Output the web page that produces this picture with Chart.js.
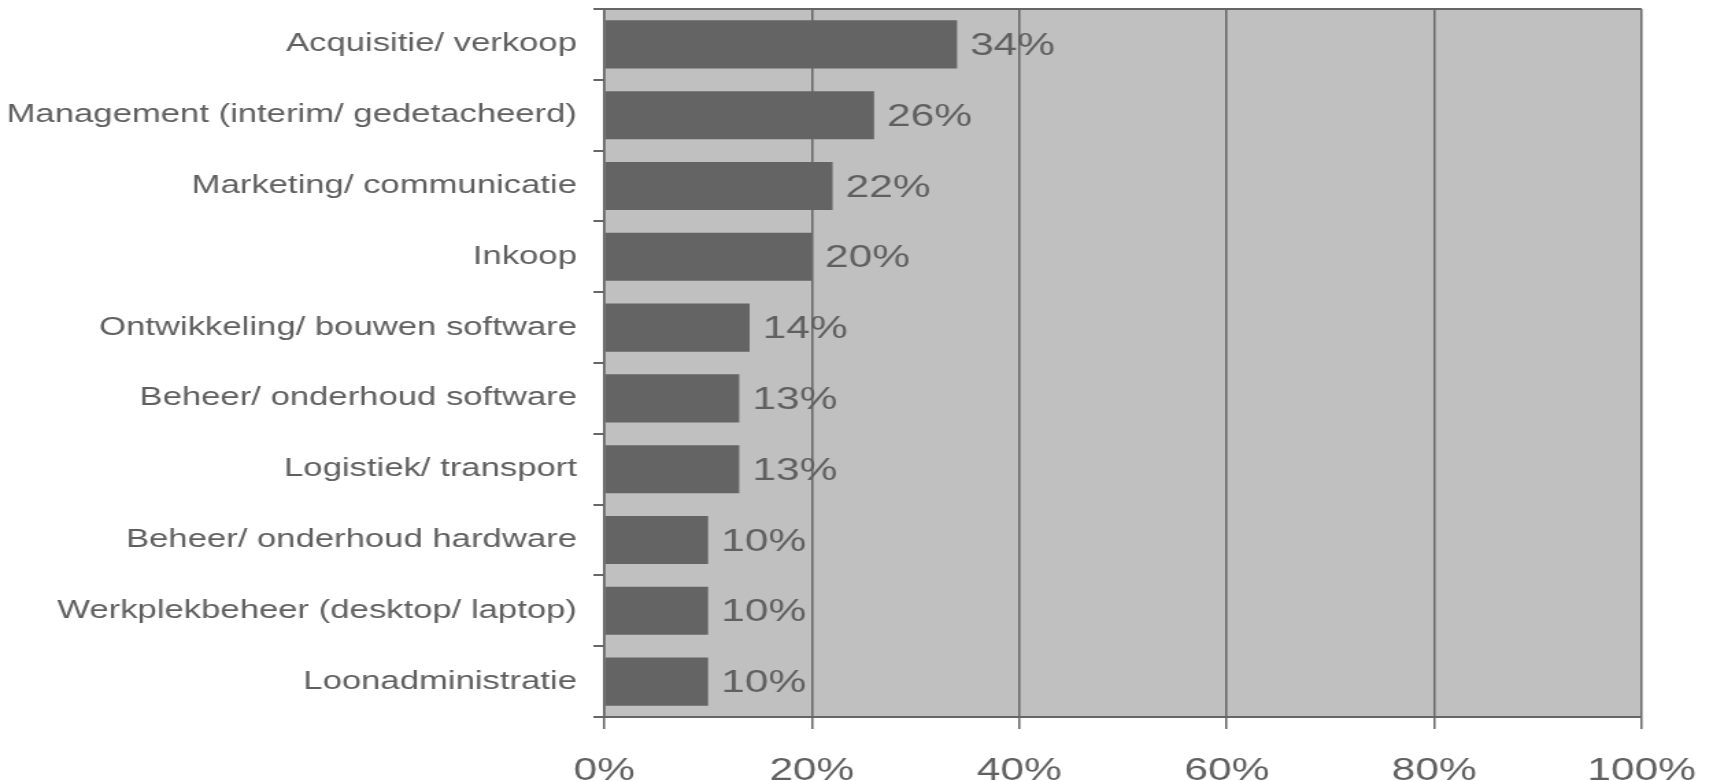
<!DOCTYPE html>
<html lang="nl">
<head>
  <meta charset="UTF-8">
  <title>Werkzaamheden</title>
  <script src="https://cdn.jsdelivr.net/npm/chart.js@4.4.1/dist/chart.umd.min.js"></script>
</head>
<style>
* {
  margin: 0;
  padding: 0;
  box-sizing: border-box;
}

html, body {
  width: 1713px;
  height: 781px;
  overflow: hidden;
  background: #fff;
}

/* the original picture is stretched sideways, so the chart is too */
.stretch {
  position: absolute;
  left: 0;
  top: 0;
  width: 1250px;
  height: 781px;
  transform-origin: 0 0;
  transform: scaleX(1.3704);
}
</style>
<body>
<div class="stretch">
  <canvas id="chart"></canvas>
</div>
<script>
const categories = [
  "Acquisitie/ verkoop",
  "Management (interim/ gedetacheerd)",
  "Marketing/ communicatie",
  "Inkoop",
  "Ontwikkeling/ bouwen software",
  "Beheer/ onderhoud software",
  "Logistiek/ transport",
  "Beheer/ onderhoud hardware",
  "Werkplekbeheer (desktop/ laptop)",
  "Loonadministratie"
];
const values = [34, 26, 22, 20, 14, 13, 13, 10, 10, 10];
const xTicks = [0, 20, 40, 60, 80, 100];

const FONT = "'Liberation Sans', Arial, sans-serif";
const textColor = "#606060";
const lineColor = "#666666";

// grey plot background, top border and the value labels next to each bar
const plotDecor = {
  id: "plotDecor",
  beforeDraw(chart) {
    const { ctx, chartArea } = chart;
    ctx.save();
    ctx.fillStyle = "#c0c0c0";
    ctx.fillRect(chartArea.left, chartArea.top, chartArea.right - chartArea.left, chartArea.bottom - chartArea.top);
    ctx.strokeStyle = lineColor;
    ctx.lineWidth = 2;
    ctx.beginPath();
    ctx.moveTo(chartArea.left, chartArea.top);
    ctx.lineTo(chartArea.right, chartArea.top);
    ctx.stroke();
    ctx.restore();
  },
  afterDraw(chart) {
    const { ctx } = chart;
    ctx.save();
    ctx.font = "31px " + FONT;
    ctx.fillStyle = textColor;
    ctx.textAlign = "left";
    ctx.textBaseline = "middle";
    chart.getDatasetMeta(0).data.forEach((bar, i) => {
      ctx.fillText(values[i] + "%", bar.x + 9.5, bar.y + 2);
    });
    ctx.restore();
  }
};

new Chart(document.getElementById("chart"), {
  type: "bar",
  plugins: [plotDecor],
  data: {
    labels: categories,
    datasets: [{
      data: values,
      backgroundColor: "#646464",
      borderWidth: 0,
      categoryPercentage: 1,
      barPercentage: 0.68
    }]
  },
  options: {
    indexAxis: "y",
    responsive: true,
    maintainAspectRatio: false,
    animation: false,
    layout: { padding: { top: 9, right: 52, left: 0, bottom: 0 } },
    plugins: {
      legend: { display: false },
      tooltip: { enabled: false }
    },
    scales: {
      x: {
        min: 0,
        max: 100,
        afterBuildTicks: (scale) => {
          scale.ticks = xTicks.map(v => ({ value: v }));
        },
        afterFit: (scale) => {
          scale.height = 64;
          scale.paddingLeft = 0;
          scale.paddingRight = 0;
        },
        ticks: {
          callback: (v) => v + "%",
          color: textColor,
          font: { family: FONT, size: 31 },
          padding: 24,
          maxRotation: 0
        },
        grid: {
          color: lineColor,
          lineWidth: 1.5,
          tickLength: 12,
          drawOnChartArea: true
        },
        border: { color: lineColor, width: 2 }
      },
      y: {
        afterFit: (scale) => {
          scale.width = 441;
          scale.paddingTop = 0;
          scale.paddingBottom = 0;
        },
        ticks: {
          color: textColor,
          font: { family: FONT, size: 25.3 },
          padding: 12
        },
        grid: {
          color: lineColor,
          lineWidth: 2,
          tickLength: 8,
          drawOnChartArea: false,
          offset: true
        },
        border: { color: lineColor, width: 1.5 }
      }
    }
  }
});
</script>
</body>
</html>
